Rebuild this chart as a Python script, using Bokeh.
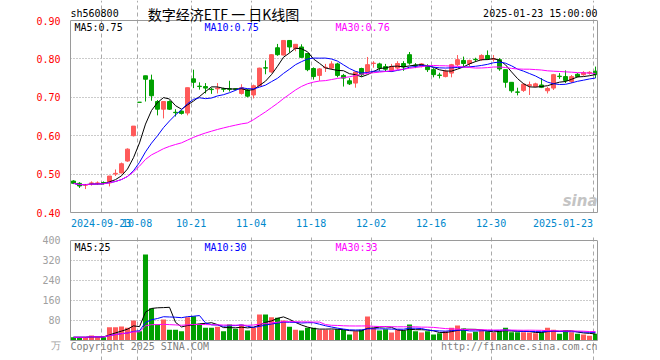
from bokeh.plotting import figure
from bokeh.layouts import column
from bokeh.models import (ColumnDataSource, FixedTicker, Label, Range1d, NumeralTickFormatter,
                          LinearAxis, Span)
from bokeh.embed import file_html
from bokeh.resources import INLINE

dates = [
    "2024-09-12", "2024-09-13", "2024-09-18", "2024-09-19", "2024-09-20",
    "2024-09-23", "2024-09-24", "2024-09-25", "2024-09-26", "2024-09-27", "2024-09-30",
    "2024-10-08", "2024-10-09", "2024-10-10", "2024-10-11",
    "2024-10-14", "2024-10-15", "2024-10-16", "2024-10-17", "2024-10-18",
    "2024-10-21", "2024-10-22", "2024-10-23", "2024-10-24", "2024-10-25",
    "2024-10-28", "2024-10-29", "2024-10-30", "2024-10-31", "2024-11-01",
    "2024-11-04", "2024-11-05", "2024-11-06", "2024-11-07", "2024-11-08",
    "2024-11-11", "2024-11-12", "2024-11-13", "2024-11-14", "2024-11-15",
    "2024-11-18", "2024-11-19", "2024-11-20", "2024-11-21", "2024-11-22",
    "2024-11-25", "2024-11-26", "2024-11-27", "2024-11-28", "2024-11-29",
    "2024-12-02", "2024-12-03", "2024-12-04", "2024-12-05", "2024-12-06",
    "2024-12-09", "2024-12-10", "2024-12-11", "2024-12-12", "2024-12-13",
    "2024-12-16", "2024-12-17", "2024-12-18", "2024-12-19", "2024-12-20",
    "2024-12-23", "2024-12-24", "2024-12-25", "2024-12-26", "2024-12-27",
    "2024-12-30", "2024-12-31", "2025-01-02", "2025-01-03",
    "2025-01-06", "2025-01-07", "2025-01-08", "2025-01-09", "2025-01-10",
    "2025-01-13", "2025-01-14", "2025-01-15", "2025-01-16", "2025-01-17",
    "2025-01-20", "2025-01-21", "2025-01-22", "2025-01-23",
]

opens = [0.482, 0.476, 0.471, 0.476, 0.476, 0.478, 0.477, 0.500, 0.503, 0.534,
         0.600, 0.687, 0.756, 0.745, 0.689, 0.669, 0.689, 0.661, 0.664, 0.659,
         0.748, 0.729, 0.728, 0.721, 0.722, 0.722, 0.722, 0.722, 0.710, 0.719,
         0.706, 0.730, 0.777, 0.766, 0.829, 0.810, 0.848, 0.827, 0.831, 0.814,
         0.775, 0.757, 0.777, 0.776, 0.787, 0.757, 0.743, 0.737, 0.775, 0.766,
         0.788, 0.787, 0.780, 0.769, 0.776, 0.788, 0.811, 0.784, 0.781, 0.782,
         0.772, 0.758, 0.754, 0.763, 0.785, 0.796, 0.788, 0.799, 0.798, 0.809,
         0.799, 0.798, 0.772, 0.739, 0.714, 0.718, 0.730, 0.728, 0.732, 0.717,
         0.724, 0.755, 0.754, 0.741, 0.760, 0.759, 0.763, 0.768]
highs = [0.484, 0.479, 0.474, 0.481, 0.481, 0.481, 0.495, 0.512, 0.530, 0.567,
         0.625, 0.687, 0.756, 0.759, 0.693, 0.689, 0.692, 0.669, 0.666, 0.725,
         0.772, 0.739, 0.737, 0.725, 0.737, 0.725, 0.743, 0.723, 0.734, 0.722,
         0.733, 0.777, 0.796, 0.812, 0.839, 0.848, 0.849, 0.838, 0.838, 0.814,
         0.778, 0.776, 0.787, 0.794, 0.790, 0.761, 0.750, 0.768, 0.777, 0.805,
         0.794, 0.790, 0.787, 0.787, 0.794, 0.794, 0.818, 0.789, 0.789, 0.786,
         0.776, 0.764, 0.772, 0.787, 0.810, 0.806, 0.798, 0.803, 0.812, 0.822,
         0.810, 0.802, 0.772, 0.739, 0.725, 0.737, 0.741, 0.738, 0.750, 0.727,
         0.761, 0.763, 0.770, 0.758, 0.763, 0.768, 0.768, 0.780]
lows = [0.474, 0.464, 0.461, 0.470, 0.472, 0.474, 0.468, 0.495, 0.502, 0.532,
        0.598, 0.687, 0.689, 0.691, 0.653, 0.645, 0.667, 0.650, 0.655, 0.653,
        0.724, 0.720, 0.710, 0.709, 0.710, 0.714, 0.715, 0.718, 0.707, 0.700,
        0.697, 0.729, 0.760, 0.764, 0.808, 0.809, 0.816, 0.820, 0.803, 0.768,
        0.746, 0.743, 0.766, 0.772, 0.752, 0.728, 0.732, 0.725, 0.754, 0.763,
        0.777, 0.769, 0.768, 0.766, 0.772, 0.769, 0.785, 0.776, 0.778, 0.766,
        0.752, 0.749, 0.752, 0.752, 0.781, 0.780, 0.780, 0.792, 0.795, 0.798,
        0.793, 0.769, 0.725, 0.712, 0.705, 0.714, 0.706, 0.726, 0.724, 0.710,
        0.719, 0.748, 0.737, 0.737, 0.752, 0.756, 0.759, 0.750]
closes = [0.476, 0.469, 0.473, 0.477, 0.477, 0.477, 0.495, 0.502, 0.527, 0.565,
          0.625, 0.687, 0.747, 0.704, 0.669, 0.689, 0.669, 0.660, 0.658, 0.725,
          0.739, 0.728, 0.724, 0.720, 0.724, 0.721, 0.721, 0.721, 0.725, 0.703,
          0.730, 0.776, 0.776, 0.811, 0.811, 0.848, 0.831, 0.838, 0.804, 0.772,
          0.754, 0.774, 0.778, 0.787, 0.757, 0.750, 0.735, 0.766, 0.759, 0.785,
          0.789, 0.776, 0.773, 0.780, 0.788, 0.779, 0.789, 0.783, 0.787, 0.772,
          0.759, 0.757, 0.768, 0.785, 0.798, 0.788, 0.796, 0.798, 0.809, 0.800,
          0.801, 0.774, 0.739, 0.717, 0.713, 0.734, 0.733, 0.735, 0.726, 0.723,
          0.759, 0.754, 0.744, 0.754, 0.754, 0.764, 0.765, 0.759]
volumes = [13, 13, 13, 20, 13, 13, 53, 53, 56, 51,
           80, 37, 344, 129, 64, 84, 43, 43, 37, 93,
           97, 64, 51, 51, 55, 37, 64, 47, 64, 40,
           51, 104, 104, 93, 91, 80, 55, 43, 40, 51,
           51, 43, 43, 43, 45, 43, 24, 37, 43, 96,
           51, 40, 45, 32, 43, 40, 64, 37, 32, 37,
           24, 29, 37, 51, 60, 48, 29, 35, 40, 37,
           32, 37, 51, 33, 33, 33, 32, 29, 33, 51,
           43, 27, 40, 33, 27, 24, 19, 27]

tick_dates = ["2024-09-23", "2024-10-08", "2024-10-21", "2024-11-04", "2024-11-18",
              "2024-12-02", "2024-12-16", "2024-12-30", "2025-01-23"]
tick_labels = ["2024-09-23", "10-08", "10-21", "11-04", "11-18",
               "12-02", "12-16", "12-30", "2025-01-23"]
price_ticks = [0.40, 0.50, 0.60, 0.70, 0.80, 0.90]
vol_ticks = [0, 80, 160, 240, 320, 400]
vol_unit = "万"

symbol = "sh560800"
title_text = "数字经济ETF 一 日K线图"
stamp = "2025-01-23 15:00:00"
price_ma_text = ["MA5:0.75", "MA10:0.75", "MA30:0.76"]
vol_ma_text = ["MA5:25", "MA10:30", "MA30:33"]
copyright_text = "Copyright 2025 SINA.COM"
url_text = "http://finance.sina.com.cn"

RED = "#ff5a5a"
GREEN = "#00a000"
MA_COLORS = ["#000000", "#0000ff", "#ff00ff"]
BORDER = "#9a9a9a"
MONO = "DejaVu Sans Mono"


def moving_average(vals, n):
    out = []
    for i in range(len(vals)):
        w = vals[max(0, i - n + 1):i + 1]
        out.append(sum(w) / len(w))
    return out


n = len(dates)
xs = list(range(n))
colors = [RED if c > o else GREEN for o, c in zip(opens, closes)]
src = ColumnDataSource(dict(
    x=xs, open=opens, high=highs, low=lows, close=closes,
    top=[max(o, c) for o, c in zip(opens, closes)],
    bottom=[min(o, c) for o, c in zip(opens, closes)],
    vol=volumes, color=colors,
    ma5=moving_average(closes, 5), ma10=moving_average(closes, 10), ma30=moving_average(closes, 30),
    vma5=moving_average(volumes, 5), vma10=moving_average(volumes, 10), vma30=moving_average(volumes, 30),
))

tick_pos = [dates.index(d) - 0.4 for d in tick_dates]
overrides = {t: lab for t, lab in zip(tick_pos, tick_labels)}
# the last date label sits to the left of its grid line
overrides[tick_pos[-1]] = tick_labels[-1] + "\u00a0" * len(tick_labels[-1])

X_RANGE = (-0.5, 87.33)
PX_PER_PRICE = 384.0   # pixels per 1.0 of price
PX_PER_VOL = 0.25      # pixels per volume unit
PRICE_H, PRICE_BOTTOM = 236, 24
VOL_H = 360 - PRICE_H


def style_panel(p, lo, hi, yticks, label_color):
    p.outline_line_color = None
    p.xgrid.ticker = FixedTicker(ticks=tick_pos)
    p.xgrid.bounds = (lo, hi)
    p.xgrid.grid_line_color = "#aaaaaa"
    p.xgrid.grid_line_dash = "4 3"
    p.ygrid.ticker = FixedTicker(ticks=yticks)
    p.ygrid.grid_line_color = "#999999"
    p.ygrid.grid_line_dash = "1 2"
    ax = p.yaxis[0]
    ax.bounds = (lo, hi)
    ax.axis_line_color = BORDER
    ax.major_tick_line_color = None
    ax.minor_tick_line_color = None
    ax.major_label_text_font = MONO
    ax.major_label_text_font_size = "10px"
    ax.major_label_text_color = label_color
    ax.major_label_standoff = 4
    right = LinearAxis(ticker=FixedTicker(ticks=[]), bounds=(lo, hi), axis_line_color=BORDER,
                       major_tick_line_color=None, minor_tick_line_color=None,
                       major_label_text_font_size="0px")
    p.add_layout(right, "right")
    p.add_layout(Span(location=hi, dimension="width", line_color=BORDER, line_width=1))


def add_text(p, x, y, text, color="#000000", align="left", font=MONO, size="10px", style="normal"):
    p.add_layout(Label(x=x, y=y, x_units="screen", y_units="screen", text=text,
                       text_font=font, text_font_size=size, text_color=color,
                       text_font_style=style, text_baseline="middle", text_align=align))


# ---------------- price panel ----------------
# frame spans the canvas from its top down to the 0.40 line
p1 = figure(width=660, height=PRICE_H, output_backend="svg", toolbar_location=None,
            x_range=Range1d(*X_RANGE),
            y_range=Range1d(price_ticks[0], price_ticks[-1] + 20 / PX_PER_PRICE),
            min_border_left=70, min_border_right=63, min_border_top=0,
            min_border_bottom=PRICE_BOTTOM)
style_panel(p1, price_ticks[0], price_ticks[-1], price_ticks, "#ff0000")
p1.yaxis[0].ticker = FixedTicker(ticks=price_ticks)
p1.yaxis[0].formatter = NumeralTickFormatter(format="0.00")
xa = p1.xaxis[0]
xa.ticker = FixedTicker(ticks=tick_pos)
xa.major_label_overrides = overrides
xa.major_tick_line_color = None
xa.minor_tick_line_color = None
xa.axis_line_color = BORDER
xa.major_label_text_font = MONO
xa.major_label_text_font_size = "10px"
xa.major_label_text_color = "#0088cc"
xa.major_label_standoff = -1

p1.segment(x0="x", y0="low", x1="x", y1="high", line_color="color", line_width=1, source=src)
p1.vbar(x="x", width=0.66, top="top", bottom="bottom", fill_color="color",
        line_color="color", line_width=1, source=src)
for key, col in zip(["ma5", "ma10", "ma30"], MA_COLORS):
    p1.line(x="x", y=key, line_color=col, line_width=1, source=src)

fh = PRICE_H - PRICE_BOTTOM   # frame height in pixels
add_text(p1, 0, fh - 13, symbol)
add_text(p1, 153, fh - 13, title_text, align="center", font="Noto Sans CJK SC", size="14px")
add_text(p1, 527, fh - 13, stamp, align="right")
for txt, col, xx in zip(price_ma_text, MA_COLORS, [4, 134, 265]):
    add_text(p1, xx, fh - 27, txt, color=col)
add_text(p1, 527, 12, "sina", color="#c4c4c4", align="right", font="DejaVu Sans",
         size="15px", style="bold italic")

# ---------------- volume panel ----------------
# frame spans the whole canvas of this figure
p2 = figure(width=660, height=VOL_H, output_backend="svg", toolbar_location=None,
            x_range=p1.x_range,
            y_range=Range1d(vol_ticks[0] - 20 / PX_PER_VOL,
                            vol_ticks[-1] + (240 - PRICE_H) / PX_PER_VOL),
            min_border_left=70, min_border_right=63, min_border_top=0, min_border_bottom=0)
style_panel(p2, vol_ticks[0], vol_ticks[-1], vol_ticks, "#a0a0a0")
p2.xaxis.visible = False
unit_pos = vol_ticks[0] - 5 / PX_PER_VOL
p2.yaxis[0].ticker = FixedTicker(ticks=vol_ticks + [unit_pos])
p2.yaxis[0].major_label_overrides = {0: "", unit_pos: vol_unit}
p2.add_layout(Span(location=vol_ticks[0], dimension="width", line_color=BORDER, line_width=1))

p2.vbar(x="x", width=0.84, top="vol", bottom=0, fill_color="color", line_color=None, source=src)
for key, col in zip(["vma5", "vma10", "vma30"], MA_COLORS):
    p2.line(x="x", y=key, line_color=col, line_width=1, source=src)

for txt, col, xx in zip(vol_ma_text, MA_COLORS, [4, 134, 265]):
    add_text(p2, xx, 113, txt, color=col)
add_text(p2, 0, 14, copyright_text, color="#808080")
add_text(p2, 527, 14, url_text, color="#808080", align="right")

layout = column(p1, p2, spacing=0)
open("out.html", "w").write(file_html(layout, INLINE))
